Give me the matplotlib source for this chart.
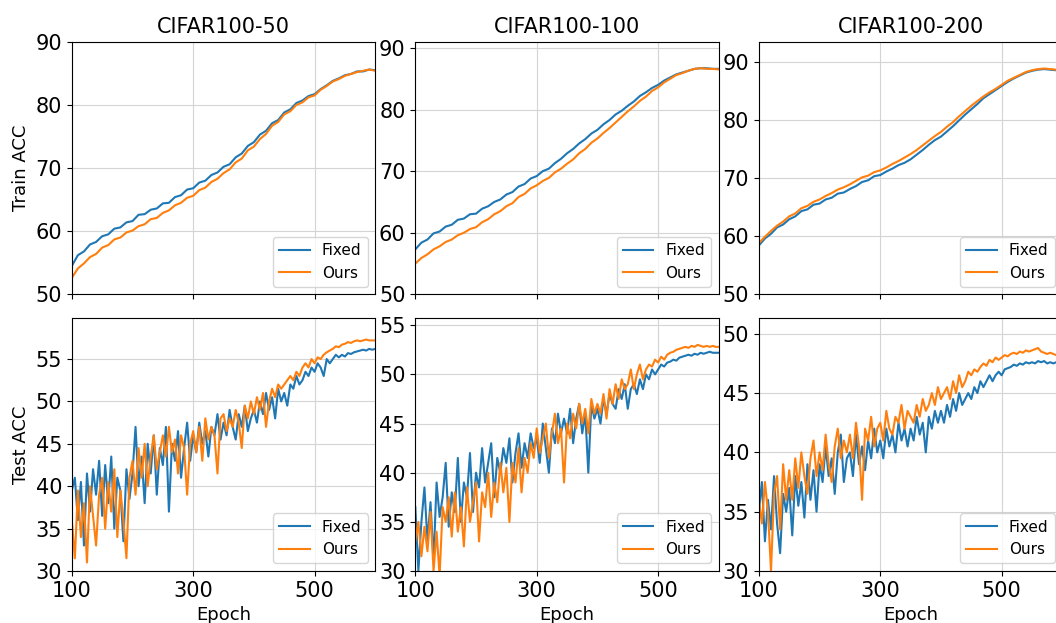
import numpy as np
import matplotlib
matplotlib.use("Agg")
import matplotlib.pyplot as plt

# epochs: train sampled every 10, test every 5
train_epochs = np.arange(100, 601, 10)
test_epochs = np.arange(100, 601, 5)

titles = ["CIFAR100-50", "CIFAR100-100", "CIFAR100-200"]

# ---- train accuracy ----
train_fixed_50 = [54.5, 56.2, 56.8, 57.9, 58.3, 59.2, 59.5, 60.4, 60.6, 61.4,
                  61.6, 62.6, 62.7, 63.4, 63.6, 64.4, 64.5, 65.4, 65.7, 66.6,
                  66.8, 67.7, 68.0, 68.9, 69.3, 70.2, 70.6, 71.7, 72.3, 73.5,
                  74.1, 75.3, 75.9, 77.1, 77.6, 78.8, 79.3, 80.3, 80.7, 81.4,
                  81.7, 82.5, 83.1, 83.8, 84.2, 84.7, 84.9, 85.3, 85.3, 85.6,
                  85.5]
train_ours_50 = [52.6, 54.1, 54.9, 55.9, 56.4, 57.4, 57.8, 58.7, 59.0, 59.8,
                 60.1, 60.8, 61.1, 61.9, 62.1, 62.9, 63.3, 64.1, 64.5, 65.3,
                 65.6, 66.5, 66.9, 67.8, 68.3, 69.2, 69.8, 70.9, 71.5, 72.8,
                 73.4, 74.6, 75.4, 76.7, 77.3, 78.5, 79.0, 80.0, 80.4, 81.2,
                 81.5, 82.4, 83.0, 83.7, 84.1, 84.6, 84.9, 85.2, 85.4, 85.6,
                 85.4]
train_fixed_100 = [57.3, 58.4, 58.9, 59.9, 60.2, 61.0, 61.3, 62.1, 62.3, 63.0,
                   63.1, 63.9, 64.3, 65.0, 65.4, 66.2, 66.6, 67.5, 67.9, 68.8,
                   69.2, 70.0, 70.4, 71.3, 72.0, 72.9, 73.6, 74.5, 75.2, 76.1,
                   76.7, 77.6, 78.3, 79.2, 79.8, 80.6, 81.3, 82.2, 82.8, 83.5,
                   84.0, 84.7, 85.2, 85.7, 86.0, 86.3, 86.6, 86.7, 86.7, 86.6,
                   86.6]
train_ours_100 = [55.0, 55.9, 56.5, 57.3, 57.8, 58.5, 58.9, 59.6, 60.0, 60.6,
                  60.9, 61.7, 62.2, 63.0, 63.5, 64.3, 64.8, 65.8, 66.3, 67.2,
                  67.7, 68.4, 68.9, 69.8, 70.4, 71.2, 71.9, 72.9, 73.6, 74.6,
                  75.3, 76.2, 77.0, 77.9, 78.8, 79.7, 80.5, 81.4, 82.1, 83.0,
                  83.6, 84.4, 85.0, 85.6, 85.9, 86.3, 86.6, 86.7, 86.6, 86.6,
                  86.5]
train_fixed_200 = [58.4, 59.6, 60.4, 61.5, 62.0, 62.9, 63.4, 64.3, 64.6, 65.4,
                   65.6, 66.3, 66.6, 67.3, 67.5, 68.1, 68.6, 69.3, 69.6, 70.3,
                   70.5, 71.1, 71.6, 72.2, 72.6, 73.2, 74.0, 74.8, 75.7, 76.5,
                   77.1, 78.0, 78.9, 79.9, 80.9, 81.8, 82.7, 83.7, 84.4, 85.1,
                   85.8, 86.5, 87.1, 87.6, 88.1, 88.4, 88.6, 88.7, 88.6, 88.5,
                   88.5]
train_ours_200 = [58.8, 59.9, 60.9, 61.8, 62.5, 63.4, 63.9, 64.8, 65.2, 65.9,
                  66.3, 66.9, 67.4, 68.0, 68.4, 68.9, 69.5, 70.1, 70.4, 71.0,
                  71.3, 71.8, 72.4, 72.9, 73.5, 74.1, 74.8, 75.6, 76.4, 77.2,
                  77.9, 78.8, 79.6, 80.6, 81.5, 82.4, 83.2, 84.0, 84.7, 85.3,
                  86.0, 86.7, 87.2, 87.7, 88.2, 88.5, 88.7, 88.8, 88.7, 88.6,
                  88.6]

# ---- test accuracy ----
test_fixed_50 = [39.5, 41, 36, 40.5, 33, 41.5, 37, 42, 39, 43,
                 36.5, 42.5, 38, 43.5, 35, 41, 39.5, 33.5, 42, 38.5,
                 41.5, 47, 40, 43.5, 38, 45, 41.5, 46, 39, 44.5,
                 42.5, 47, 37, 45, 43, 46.5, 41, 44.5, 47.5, 43,
                 46, 44, 47.5, 45, 46.5, 43.5, 47, 46, 48.5, 45.5,
                 47.5, 46, 49, 47, 45.5, 48.5, 47, 49.5, 46.5, 48,
                 49, 47.5, 50, 48.5, 51, 49, 50.5, 48, 51.5, 50,
                 51, 49.5, 52, 51.5, 53, 52, 52.5, 53.5, 53, 54,
                 53.5, 54.5, 54, 53, 55, 54.5, 55, 55.5, 55.2, 55.5,
                 55.3, 55.7, 55.6, 55.8, 55.9, 56, 56.1, 56, 56.2, 56.1,
                 56.2]
test_ours_50 = [36, 31.5, 39.5, 34, 38, 31, 40, 36.5, 33, 39,
                41, 35, 40.5, 37, 42, 34, 39.5, 36, 31.5, 41,
                43, 39, 44.5, 41, 45, 40, 43.5, 46, 42, 44,
                46, 43.5, 47, 44, 45.5, 41.5, 46, 44.5, 39, 45,
                46.5, 44, 47, 43, 48, 45.5, 47, 46, 41.5, 48,
                48.5, 46.5, 48, 47, 49, 47.5, 44.5, 49.5, 48, 50,
                48.5, 50.5, 49, 51, 47, 50, 51.5, 50.5, 52, 51.5,
                52, 52.5, 53, 52.5, 53.5, 53, 54, 54.5, 54, 55,
                54.5, 55.2, 55, 55.5, 55.8, 56, 56.2, 56.5, 56.4, 56.7,
                56.8, 57, 56.9, 57.1, 57.2, 57.1, 57.2, 57.3, 57.2, 57.2,
                57.2]
test_fixed_100 = [36.5, 30, 35, 38.5, 33, 37, 31, 39, 35.5, 37.5,
                  41, 34.5, 38, 36, 41.5, 35, 39, 37.5, 42, 36,
                  40, 38.5, 42.5, 39, 41, 43, 37.5, 41.5, 40, 42.5,
                  41, 43.5, 39, 42, 44, 40.5, 43, 41.5, 44, 42.5,
                  43.5, 41, 45, 42.5, 40, 44.5, 43, 46, 44, 45.5,
                  44, 46.5, 43, 45.5, 47, 44, 46, 40, 47, 45.5,
                  46.5, 45, 47.5, 46, 48, 47, 46.5, 48.5, 47.5, 49,
                  46.5, 48.5, 49, 48, 49.5, 48.5, 50, 49.5, 50.5, 50,
                  50.5, 51, 50.8, 51.2, 51.3, 51.5, 51.4, 51.7, 51.8, 51.9,
                  52, 51.9, 52.1, 52, 52.2, 52.1, 52.2, 52.3, 52.2, 52.2,
                  52.2]
test_ours_100 = [33, 35, 31.5, 34.5, 32, 36, 30, 34, 29.5, 36.5,
                 35, 37.5, 33.5, 38, 34, 36.5, 32.5, 38.5, 35, 37,
                 39, 33, 38, 36.5, 40, 35.5, 39, 37, 41, 38,
                 40.5, 35, 41, 39, 42.5, 38, 41.5, 40, 43, 41.5,
                 44.5, 42, 43.5, 45, 41.5, 44, 46, 43, 44.5, 39,
                 45, 43.5, 46, 44.5, 47, 45, 46.5, 44, 47.5, 46,
                 47, 46, 48, 45.5, 48.5, 47, 49, 47.5, 49.5, 48.5,
                 49, 50.5, 48.5, 50, 51, 49.5, 50.5, 51, 50.8, 51.5,
                 51.2, 51.8, 51.5, 52, 52.2, 52.3, 52.5, 52.6, 52.7, 52.8,
                 52.7, 52.9, 52.8, 53, 52.9, 52.8, 52.9, 52.8, 52.9, 52.8,
                 52.8]
test_fixed_200 = [35, 37.5, 32.5, 36, 33.5, 38, 34, 31.5, 36.5, 35,
                  37, 33, 38, 35.5, 37.5, 34.5, 39, 36, 38.5, 35,
                  39, 37.5, 40.5, 38, 39.5, 36.5, 40, 41.5, 37.5, 39.5,
                  40, 38, 41.5, 39, 40.5, 38.5, 41, 39.5, 42, 40,
                  41, 39.5, 42, 40.5, 41.5, 40, 42.5, 41, 42, 40.5,
                  42, 41, 43, 41.5, 42.5, 40, 43, 42, 43.5, 42.5,
                  43.5, 42.5, 44, 43, 44.5, 43.5, 45, 44, 44.5, 45,
                  44.5, 45.5, 45, 46, 45.5, 46, 46.5, 46, 46.5, 46.8,
                  46.5, 47, 47.1, 47.2, 47.4, 47.3, 47.5, 47.4, 47.6, 47.5,
                  47.6, 47.5, 47.7, 47.6, 47.7, 47.5, 47.6, 47.5, 47.6, 47.5,
                  47.5]
test_ours_200 = [36, 34, 37.5, 35, 30, 36.5, 38, 33.5, 39, 36,
                 38.5, 36, 39.5, 37, 40, 38, 36.5, 39.5, 41, 38,
                 40, 38.5, 41.5, 39, 37.5, 40.5, 42, 39.5, 41, 40,
                 41.5, 39.5, 42.5, 40.5, 36, 42, 41, 43, 40.5, 42,
                 42.5, 41, 43.5, 42, 41.5, 43, 42.5, 44, 42, 43.5,
                 43, 42.5, 44, 43, 44.5, 43.5, 44, 45, 44, 45.5,
                 44.5, 45, 45.5, 44.5, 46, 45, 46.5, 45.5, 46, 46.8,
                 46.5, 47, 46.8, 47.2, 47.5, 47.3, 47.8, 47.6, 48, 47.8,
                 48, 48.2, 48.1, 48.3, 48.4, 48.3, 48.5, 48.4, 48.6, 48.5,
                 48.6, 48.7, 48.8, 48.5, 48.4, 48.3, 48.4, 48.3, 48.2, 48.3,
                 48.2]

train_fixed = [train_fixed_50, train_fixed_100, train_fixed_200]
train_ours = [train_ours_50, train_ours_100, train_ours_200]
test_fixed = [test_fixed_50, test_fixed_100, test_fixed_200]
test_ours = [test_ours_50, test_ours_100, test_ours_200]

train_ylim = [(50, 90), (50, 91), (50, 93.4)]
test_ylim = [(30, 59.8), (30, 55.7), (30, 51.3)]

fig, axes = plt.subplots(2, 3, figsize=(10.56, 6.23), dpi=100)
fig.subplots_adjust(left=0.068, right=1.006, bottom=0.0835, top=0.933,
                    wspace=0.132, hspace=0.095)

for j in range(3):
    ax = axes[0, j]
    ax.plot(train_epochs, train_fixed[j], color='tab:blue', lw=1.5, label='Fixed')
    ax.plot(train_epochs, train_ours[j], color='tab:orange', lw=1.5, label='Ours')
    ax.set_title(titles[j], fontsize=15)
    ax.set_ylim(*train_ylim[j])
    ax.set_yticks([50, 60, 70, 80, 90])

    ax2 = axes[1, j]
    ax2.plot(test_epochs, test_fixed[j], color='tab:blue', lw=1.5, label='Fixed')
    ax2.plot(test_epochs, test_ours[j], color='tab:orange', lw=1.5, label='Ours')
    ax2.set_ylim(*test_ylim[j])
    ax2.set_yticks(np.arange(30, test_ylim[j][1], 5))
    ax2.set_xlabel('Epoch', fontsize=13)

    for a in (ax, ax2):
        a.set_xlim(100, 600)
        a.set_xticks([100, 300, 500])
        a.grid(True, color='#d4d4d4', lw=0.8)
        a.tick_params(labelsize=15)
        a.legend(loc='lower right', fontsize=11)
    ax.set_xticklabels([])

axes[0, 0].set_ylabel('Train ACC', fontsize=13)
axes[1, 0].set_ylabel('Test ACC', fontsize=13)

fig.savefig('out.png', dpi=100)
